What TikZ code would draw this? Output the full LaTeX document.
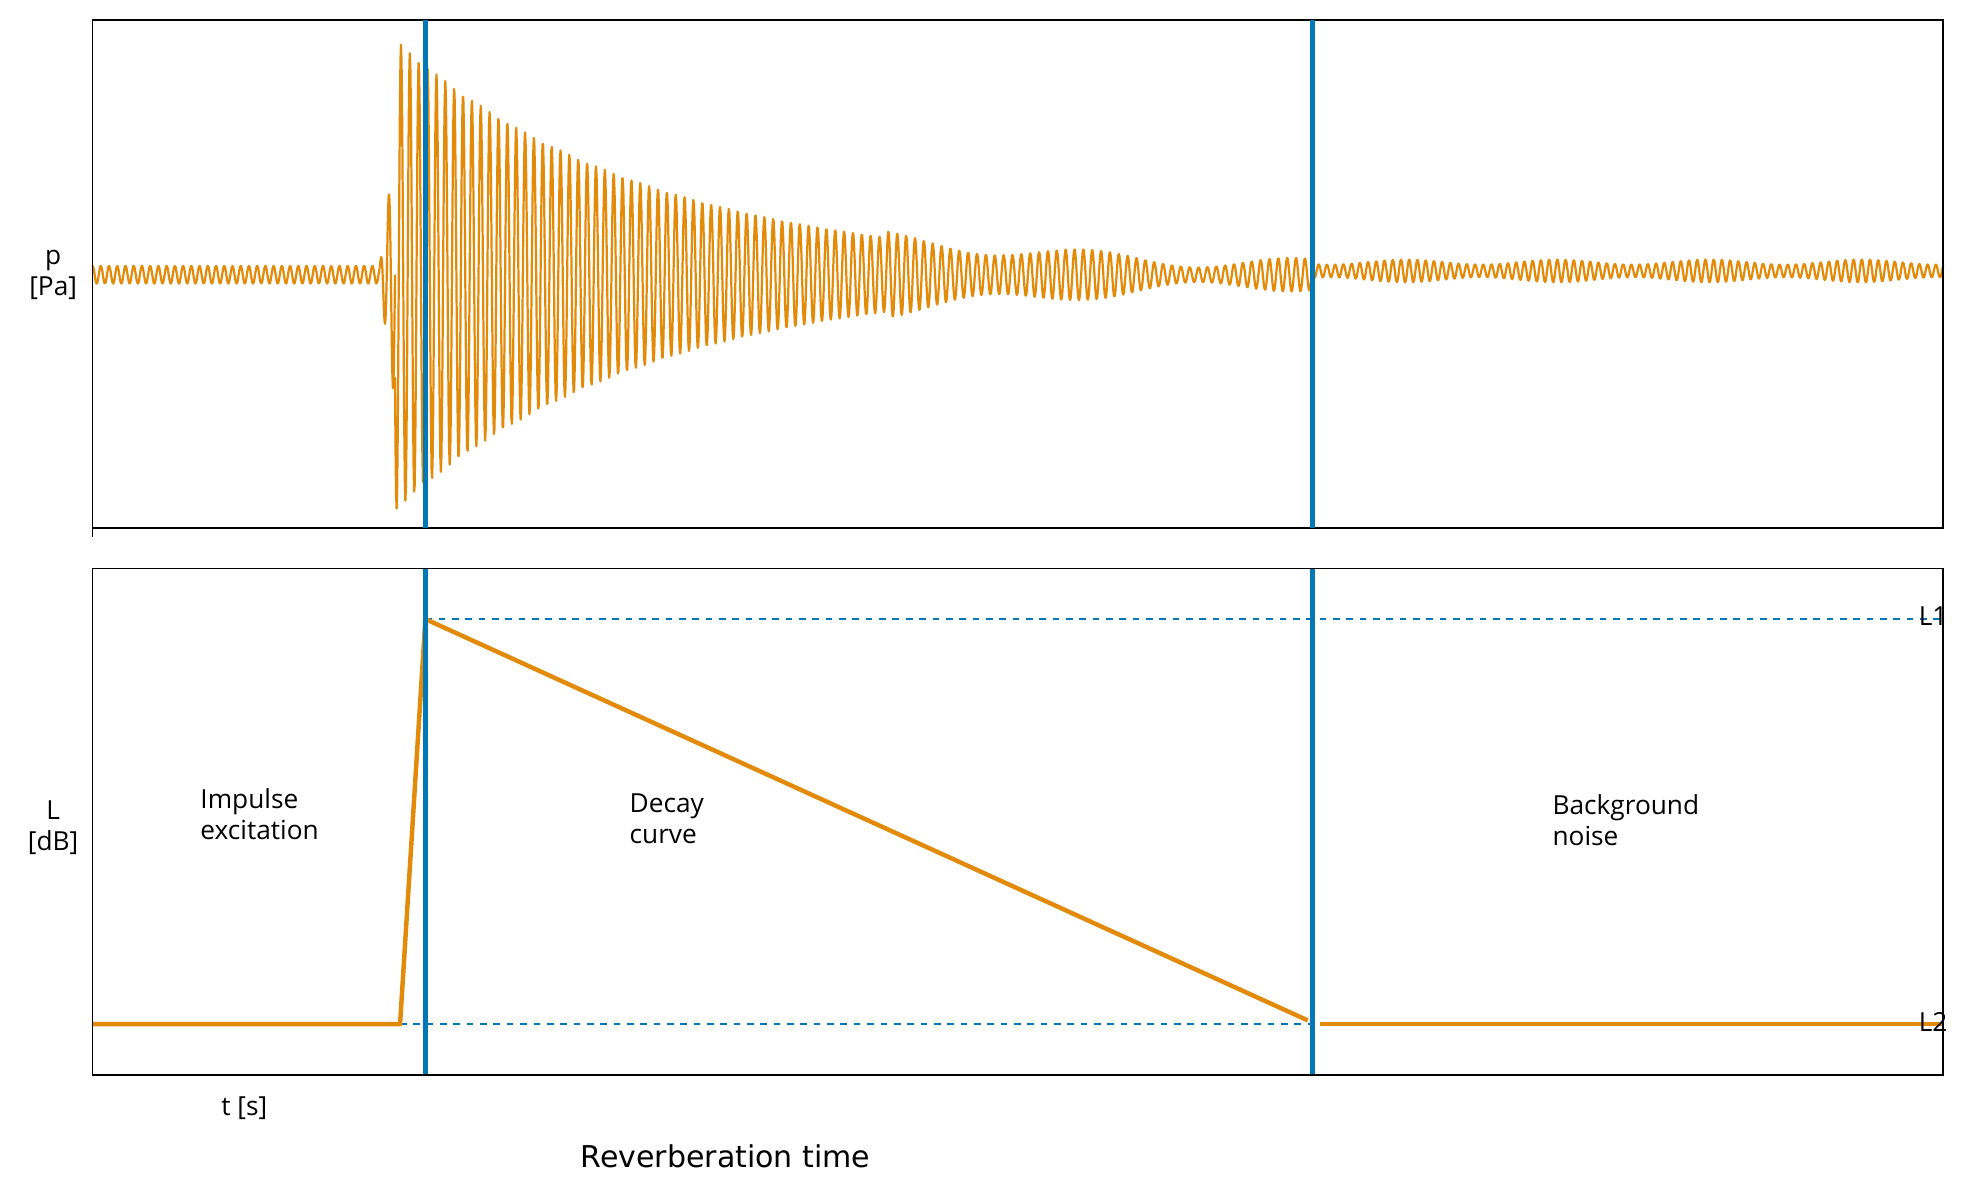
\documentclass[tikz,border=0pt]{standalone}
\usepackage{fontspec}
\setmainfont{Open Sans}
\newfontfamily\djv{DejaVu Sans}
\definecolor{org}{RGB}{226,138,10}
\definecolor{blu}{RGB}{0,120,182}
\begin{document}
\begin{tikzpicture}[x=0.02cm,y=-0.02cm,
  frame/.style={draw=black,line width=0.8pt},
  vline/.style={draw=blu,line width=2.2pt},
  curve/.style={draw=org,line width=2pt,line join=round},
  wave/.style={draw=org,line width=1pt,line join=round},
  dashline/.style={draw=blu,dashed,line width=0.9pt},
  lbl/.style={font=\fontsize{11.8}{14}\selectfont,align=left,inner sep=0pt}]
\useasboundingbox (0,0) rectangle (1564,934);
% top panel
\draw[wave] plot[domain=73:300,samples=400] (\x,{217-7*sin(mod(\x,6.5)*55.3846)});
\draw[wave] plot[domain=300:312,samples=30] (\x,{217-(7+(\x-300)*8)*sin(mod(\x,6.5)*55.3846)});
\draw[wave] plot[domain=312:700,samples=900] (\x,{217-(183*exp(-(\x-312)/200)+3)*sin(mod(\x,7)*51.4286)});
\draw[wave] plot[domain=700:1037,samples=800] (\x,{217-(183*exp(-(\x-312)/200)+3+5*sin(mod(\x*2.2,360)))*sin(mod(\x,7)*51.4286)});
\draw[wave] plot[domain=1037:1535,samples=1000] (\x,{214-(7+2*sin(mod(\x*3,360)))*sin(mod(\x,6.5)*55.3846)});
\draw[frame] (73,16) rectangle (1535,417);
\draw[frame] (73,417) -- (73,424);
\draw[vline] (336,16) -- (336,417);
\draw[vline] (1037,16) -- (1037,417);
\node[lbl,align=center] (p) at (42,217) {p\\{[Pa]}};
% bottom panel
\draw[dashline] (336,489) -- (1535,489);
\draw[dashline] (316,809) -- (1535,809);
\draw[curve] (73,809) coordinate (c0) -- (316,809) coordinate (c1) -- (336,489) coordinate (c2) -- (1033,806) coordinate (c3);
\draw[curve] (1043,809) coordinate (c4) -- (1535,809) coordinate (c5);
\draw[vline] (336,449) -- (336,849);
\draw[vline] (1037,449) -- (1037,849);
\draw[frame] (73,449) rectangle (1535,849);
\node[lbl] (l1) at (1527,487) {L1};
\node[lbl] (l2) at (1527,807) {L2};
\node[lbl,align=center] (L) at (42,654) {L\\{[dB]}};
\node[lbl,anchor=west] (imp) at (158,643) {Impulse\\excitation};
\node[lbl,anchor=west] (dec) at (497,647) {Decay\\curve};
\node[lbl,anchor=west] (bg) at (1226,648) {Background\\noise};
\node[lbl] (t) at (193,875) {t [s]};
\node[inner sep=0pt,font=\djv\fontsize{13.5}{16}\selectfont] (rt) at (573,913) {Reverberation time};
\end{tikzpicture}
\end{document}
